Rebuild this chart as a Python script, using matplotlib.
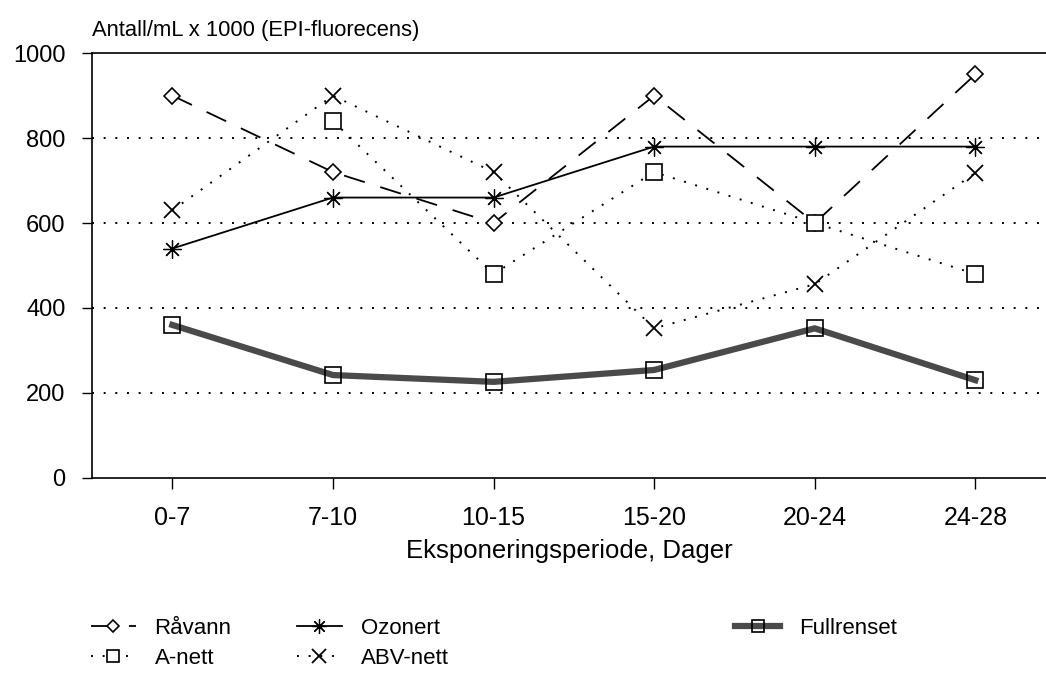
import matplotlib.pyplot as plt
import numpy as np

plt.rcParams['font.family'] = ['Liberation Sans', 'DejaVu Sans']

# periods (days) and counts per mL x 1000
periods = ['0-7', '7-10', '10-15', '15-20', '20-24', '24-28']
ravann = [900, 720, 600, 900, 600, 950]
ozonert = [540, 660, 660, 780, 780, 780]
fullrenset = [360, 242, 226, 254, 352, 230]
a_nett = [np.nan, 840, 480, 720, 600, 480]
abv_nett = [630, 900, 720, 352, 456, 718]

x = np.arange(len(periods))

fig = plt.figure(figsize=(10.46, 6.73), dpi=100)
ax = fig.add_axes([0.088, 0.29, 0.912, 0.631])

dots = (0, (1, 5))

l1, = ax.plot(x, ravann, color='black', lw=1.3, ls=(0, (12, 9)),
              marker='D', ms=8, mfc='white', mec='black', mew=1.2, label='Råvann')
l2, = ax.plot(x, ozonert, color='black', lw=1.3, ls='-',
              marker=(8, 2, 0), ms=13, mec='black', mew=0.9, label='Ozonert')
l3, = ax.plot(x, fullrenset, color='#4a4a4a', lw=4.5, solid_joinstyle='round',
              marker='s', ms=11, mfc='none', mec='black', mew=1.2, label='Fullrenset')
l4, = ax.plot(x, a_nett, color='black', lw=1.4, ls=dots,
              marker='s', ms=11, mfc='white', mec='black', mew=1.2, label='A-nett')
l5, = ax.plot(x, abv_nett, color='black', lw=1.4, ls=dots,
              marker='x', ms=12, mec='black', mew=1.3, label='ABV-nett')

# dotted gridlines
for gv in [200, 400, 600, 800]:
    ax.axhline(gv, color='black', lw=1.4, ls=dots, zorder=0)

ax.set_xlim(-0.5, 5.44)
ax.set_ylim(0, 1000)
ax.set_yticks([0, 200, 400, 600, 800, 1000])
ax.set_xticks(x)
ax.set_xticklabels(periods)
ax.tick_params(axis='y', labelsize=17, direction='out', length=7, width=1, pad=12)
ax.tick_params(axis='x', labelsize=18, direction='out', length=8, width=1, pad=12)
ax.spines['right'].set_visible(False)
for s in ['left', 'top', 'bottom']:
    ax.spines[s].set_linewidth(1.2)

ax.set_xlabel('Eksponeringsperiode, Dager', fontsize=18.5, labelpad=7)
fig.text(0.088, 0.955, 'Antall/mL x 1000 (EPI-fluorecens)', fontsize=15.8,
         ha='left', va='center')

# legend in three separate columns
cols = [([l1, l4], 0.068), ([l2, l5], 0.265), ([l3], 0.684)]
for handles, xpos in cols:
    fig.legend(handles=handles, loc='upper left', bbox_to_anchor=(xpos, 0.112),
               frameon=False, fontsize=16, handlelength=2.0, handletextpad=0.85,
               labelspacing=0.42, markerscale=0.8)

fig.savefig('out.png', dpi=100)
